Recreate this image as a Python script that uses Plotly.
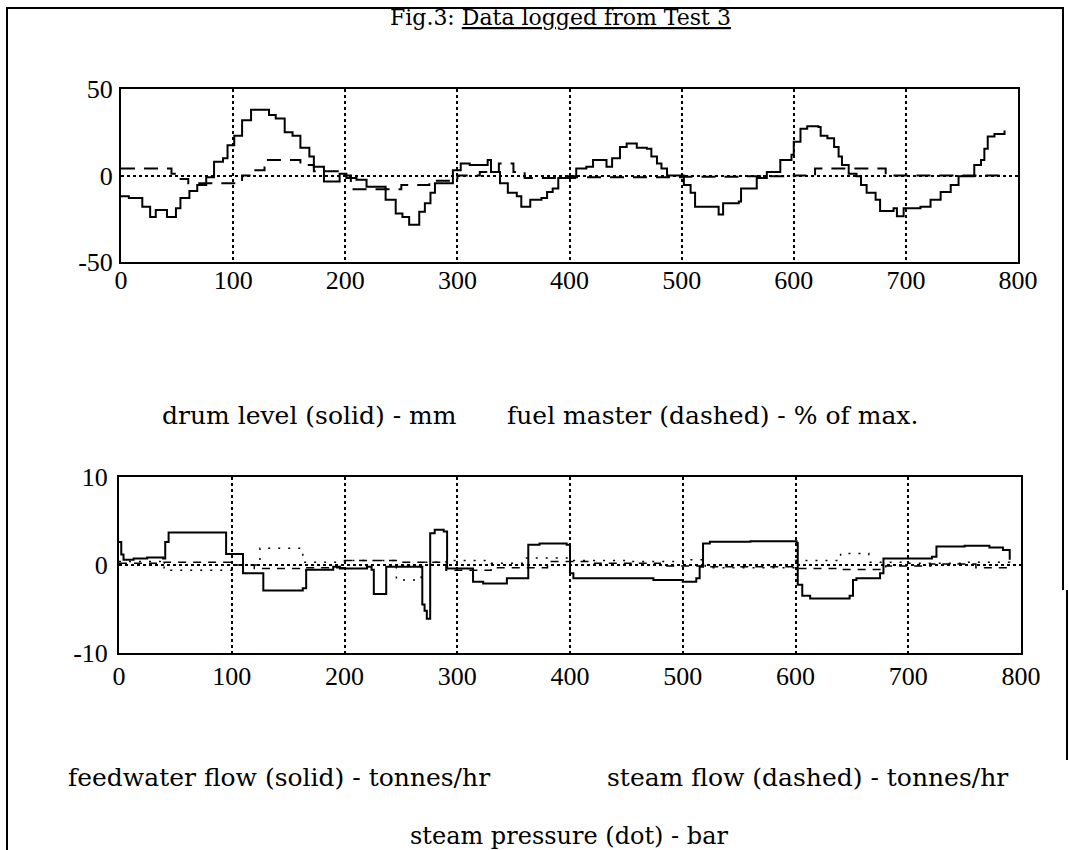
import plotly.graph_objects as go

# ---------------- data ----------------
x_ticks = [0, 100, 200, 300, 400, 500, 600, 700, 800]
top_y_ticks = [-50, 0, 50]
top_y_text = ["-50", "0", "50"]
bot_y_ticks = [-10, 0, 10]
bot_y_text = ["-10", "0", "10"]

# drum level (solid) - mm
drum_x = [0, 7, 19, 26, 31, 41, 49, 53, 61, 68, 76, 83, 91, 95, 101, 108, 116, 129, 132, 138,
          146, 153, 160, 168, 172, 181, 187, 195, 201, 210, 219, 228, 236, 245, 251, 257, 266, 271, 276, 280,
          296, 303, 311, 324, 327, 330, 338, 345, 353, 357, 365, 375, 380, 385, 390, 397, 406, 415, 421, 433,
          438, 445, 451, 460, 469, 473, 478, 482, 487, 502, 508, 512, 531, 533, 537, 551, 553, 561, 567, 576,
          588, 598, 600, 606, 612, 622, 624, 630, 636, 640, 643, 649, 656, 660, 665, 673, 677, 683, 689, 692,
          698, 713, 722, 731, 740, 747, 758, 761, 767, 770, 773, 779, 788]
drum_y = [-12, -13, -18, -24, -20, -24, -19, -13, -9, -5.5, -1, 8, 10, 17.5, 23, 32, 38, 38, 35, 33,
          25, 23, 16, 11, 5, -3.5, -3.5, 1, -1.5, -2.5, -6.5, -6.5, -14, -22, -24, -28.5, -21, -16, -10, -4.5,
          3, 7, 6, 6, 9, 2, -4.5, -10, -12, -18, -14, -13, -9.5, -7.5, -1.5, -0.5, 4, 5, 9, 5,
          10, 16.5, 18.5, 16, 15.5, 11, 7, 4, 0, -5.5, -10, -18, -18, -22.5, -16, -15, -7.5, -7.5, -1.5, 2,
          9, 12, 19.5, 27, 28.5, 28, 23, 21.5, 16.5, 11, 6, 1, -0.5, -5.5, -10, -14, -20.5, -20.5, -19, -23.5,
          -19, -18, -14, -9.5, -5.5, -0.5, -0.5, 6, 9, 15.5, 22.5, 24, 26]

# fuel master (dashed) - % of max.
fuel_x = [0, 45, 52, 60, 95, 108, 118, 128, 160, 172, 196, 205, 250, 275, 300, 320, 337, 350, 360, 405,
          500, 555, 600, 619, 682, 790]
fuel_y = [4, 1, -2, -4.5, -4.5, 0, 3, 9, 6, 2.5, 0, -8, -5.5, -3, 0, 2, 7, 2, -1.5, -1,
          -0.7, -0.5, 0, 4, 0, 0]

# feedwater flow (solid) - tonnes/hr
fw_x = [0, 2, 4, 13, 25, 39, 41, 44, 92, 95, 107, 110, 125, 128, 163, 166, 190, 196, 220, 224,
        226, 234, 237, 267, 269, 271, 273, 276, 280, 288, 291, 311, 314, 323, 344, 362, 363, 373, 397, 400,
        403, 444, 474, 500, 512, 515, 518, 524, 560, 601, 602, 606, 613, 648, 651, 654, 675, 678, 721, 725,
        728, 750, 772, 784, 790]
fw_y = [2.6, 1.2, 0.6, 0.75, 0.85, 0.75, 2.6, 3.7, 3.7, 1.25, 1.25, -0.95, -0.95, -2.9, -2.65, -0.55, -0.2, -0.4, -0.2, -0.55,
        -3.3, -3.3, -0.2, -0.2, -4.5, -5.2, -6.1, 3.6, 4.0, 3.8, -0.4, -0.4, -1.9, -2.1, -1.5, -1.5, 2.3, 2.45, 2.3, -0.95,
        -1.5, -1.5, -1.7, -1.9, -1.5, -0.2, 2.45, 2.65, 2.7, 2.5, -2.25, -3.5, -3.8, -3.5, -1.7, -1.5, -0.95, 0.75, 0.95, 2.1,
        2.1, 2.2, 2.0, 1.7, 0.6]

# steam flow (dashed) - tonnes/hr
sf_x = [0, 40, 100, 120, 160, 200, 250, 290, 330, 380, 420, 480, 520, 600, 640, 680, 720, 760, 790]
sf_y = [0.2, 0.3, 0.0, -0.4, -0.3, 0.5, 0.3, -0.6, -0.3, 0.4, 0.2, -0.1, -0.2, -0.4, -0.5, -0.1, 0.1, -0.3, -0.2]

# steam pressure (dot) - bar
sp_x = [0, 40, 100, 125, 163, 200, 246, 268, 290, 330, 360, 400, 450, 500, 520, 600, 640, 665, 700, 750, 790]
sp_y = [0.4, -0.6, 0.0, 1.9, 0.3, 0.5, -1.7, 0.3, 0.5, 0.2, 0.8, 0.5, 0.4, 0.6, -0.3, 0.5, 1.3, 0.3, 0.2, 0.3, 0.2]

# ---------------- figure ----------------
W, H = 1069, 850
def fx(p):
    return p / W
def fy(p):
    return 1 - p / H

fig = go.Figure()
fig.add_trace(go.Scatter(x=drum_x, y=drum_y, mode="lines", xaxis="x", yaxis="y",
                         line=dict(color="black", width=2, shape="hv")))
fig.add_trace(go.Scatter(x=fuel_x, y=fuel_y, mode="lines", xaxis="x", yaxis="y",
                         line=dict(color="black", width=2, shape="hv", dash="14px,9px")))
fig.add_trace(go.Scatter(x=fw_x, y=fw_y, mode="lines", xaxis="x2", yaxis="y2",
                         line=dict(color="black", width=2, shape="hv")))
fig.add_trace(go.Scatter(x=sf_x, y=sf_y, mode="lines", xaxis="x2", yaxis="y2",
                         line=dict(color="black", width=1.5, shape="hv", dash="8px,7px")))
fig.add_trace(go.Scatter(x=sp_x, y=sp_y, mode="lines", xaxis="x2", yaxis="y2",
                         line=dict(color="black", width=1.5, shape="hv", dash="2px,8px")))

tickfont = dict(family="Liberation Serif", size=26, color="black")
common = dict(showgrid=True, gridcolor="black", griddash="dot", gridwidth=1.5,
              showline=True, mirror=True, linecolor="black", linewidth=2,
              zeroline=False, ticks="", ticklen=0, tickfont=tickfont, automargin=False)

fig.update_layout(
    width=W, height=H, autosize=False,
    margin=dict(l=0, r=0, t=0, b=0, pad=0, autoexpand=False),
    paper_bgcolor="white", plot_bgcolor="white",
    showlegend=False,
    xaxis=dict(domain=[fx(121), fx(1018)], range=[0, 800], tickvals=x_ticks, anchor="y",
               ticklabelstandoff=-6, **common),
    yaxis=dict(domain=[fy(262), fy(89)], range=[-50, 50], tickvals=top_y_ticks, ticktext=top_y_text,
               anchor="x", ticklabelstandoff=1, **common),
    xaxis2=dict(domain=[fx(119), fx(1021)], range=[0, 800], tickvals=x_ticks, anchor="y2",
                ticklabelstandoff=-1, **common),
    yaxis2=dict(domain=[fy(653), fy(477)], range=[-10, 10], tickvals=bot_y_ticks, ticktext=bot_y_text,
                anchor="x2", ticklabelstandoff=4, **common),
)

lab = dict(family="DejaVu Serif", size=25, color="black")
def note(text, x, y, anchor="left", font=lab):
    fig.add_annotation(text=text, x=fx(x), y=fy(y), xref="paper", yref="paper",
                       xanchor=anchor, yanchor="middle", showarrow=False, font=font)

note("Fig.3: <u>Data logged from Test 3</u>", 560, 18, anchor="center",
     font=dict(family="DejaVu Serif", size=22, color="black"))
note("drum level (solid) - mm", 160, 415)
note("fuel master (dashed) - % of max.", 505, 415)
note("feedwater flow (solid) - tonnes/hr", 66, 777)
note("steam flow (dashed) - tonnes/hr", 605, 777)
note("steam pressure (dot) - bar", 408, 836, font=dict(family="DejaVu Serif", size=24, color="black"))

# outer frame
frame = dict(color="black", width=2)
fig.add_shape(type="line", xref="paper", yref="paper", x0=fx(6), x1=fx(1064), y0=fy(8), y1=fy(8), line=frame)
fig.add_shape(type="line", xref="paper", yref="paper", x0=fx(7), x1=fx(7), y0=fy(8), y1=fy(850), line=frame)
fig.add_shape(type="line", xref="paper", yref="paper", x0=fx(1063), x1=fx(1063), y0=fy(8), y1=fy(590), line=frame)
fig.add_shape(type="line", xref="paper", yref="paper", x0=fx(1067), x1=fx(1067), y0=fy(590), y1=fy(760), line=frame)

fig.write_html("out.html", config={"displayModeBar": False},
               post_script="document.body.style.margin='0';document.body.style.overflow='hidden';")
